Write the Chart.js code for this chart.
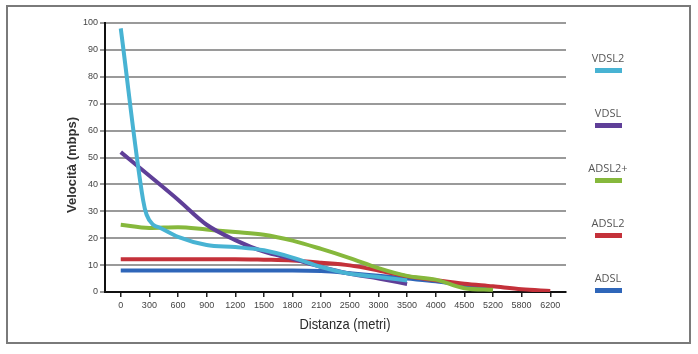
<!DOCTYPE html>
<html>
<head>
    <meta charset="utf-8">
    <title>Velocità vs distanza</title>
    <script src="https://cdn.jsdelivr.net/npm/chart.js"></script>
    <style>
        body { margin: 0; background: #fff; }
        .wrap { width: 698px; height: 354px; position: relative; }
    </style>
</head>
<body>
    <div class="wrap"><canvas id="speedChart"></canvas></div>

<script>
    // distanze (etichette asse x, spaziatura non uniforme)
    const distanze = ['0', '300', '600', '900', '1200', '1500', '1800', '2100', '2500',
                      '3000', '3500', '4000', '4500', '5200', '5800', '6200'];

    // VDSL2 ha qualche punto in più vicino al gomito
    const vdsl2Dist = [0, 235, 270, 340, 410, 600, 900, 1200, 1500, 1800, 2100, 2500, 3000, 3500];
    const vdsl2     = [98, 34, 28.8, 25, 23.9, 20.5, 17.5, 16.7, 15.5, 12.8, 9.3, 6.8, 5.6, 4.3];

    const vdsl   = [52, 43.2, 34.3, 25, 19.3, 15, 12.3, 9.3, 6.8, 5, 3];
    const adsl2p = [25, 23.8, 24.1, 23.2, 22.3, 21.3, 19.1, 16, 12.6, 8.9, 6, 4.6, 1.4, 0.8];
    const adsl2  = [12.2, 12.2, 12.2, 12.2, 12.2, 12, 11.7, 10.9, 9.9, 8, 5.8, 4.4, 3.1, 2.1, 1, 0.4];
    const adsl   = [8, 8, 8, 8, 8, 8, 8, 7.8, 7, 6, 5, 4, 2.5, 1];

    const yTicks = [0, 10, 20, 30, 40, 50, 60, 70, 80, 90, 100];

    const metri = distanze.map(Number);

    // l'asse x mette le etichette a passo costante: metri -> posizione sull'asse
    function posOf(m) {
        for (let i = 0; i < metri.length - 1; i++) {
            if (m <= metri[i + 1]) return i + (m - metri[i]) / (metri[i + 1] - metri[i]);
        }
        return metri.length - 1;
    }

    const onLabels = arr => arr.map((v, i) => ({ x: i, y: v }));

    const serie = [
        { label: 'VDSL2',  data: vdsl2.map((v, i) => ({ x: posOf(vdsl2Dist[i]), y: v })), color: '#48b3d3' },
        { label: 'VDSL',   data: onLabels(vdsl),   color: '#5f3f98' },
        { label: 'ADSL2+', data: onLabels(adsl2p), color: '#86b83c' },
        { label: 'ADSL2',  data: onLabels(adsl2),  color: '#c4313a' },
        { label: 'ADSL',   data: onLabels(adsl),   color: '#2f66b9' }
    ];

    const tickFont = { size: 9, family: "'Liberation Sans', sans-serif" };

    // cornice, titoli degli assi e legenda a destra
    const decor = {
        id: 'decor',
        beforeDraw(chart) {
            const c = chart.ctx;
            c.save();
            c.fillStyle = '#fff';
            c.fillRect(0, 0, chart.width, chart.height);
            c.restore();
        },
        afterDraw(chart) {
            const c = chart.ctx;
            c.save();
            c.strokeStyle = '#7a7a7a';
            c.lineWidth = 2;
            c.strokeRect(7, 6, 683, 337);

            // titolo asse y
            c.fillStyle = '#333';
            c.font = "bold 13px 'Liberation Sans', Arial, sans-serif";
            c.textAlign = 'center';
            c.textBaseline = 'middle';
            c.translate(72, 165);
            c.rotate(-Math.PI / 2);
            c.fillText('Velocità (mbps)', 0, 0);
            c.setTransform(1, 0, 0, 1, 0, 0);

            // titolo asse x (carattere stretto)
            c.translate(345, 325);
            c.scale(0.86, 1);
            c.font = "15px 'Liberation Sans', sans-serif";
            c.fillStyle = '#2a2a2a';
            c.fillText('Distanza (metri)', 0, 0);
            c.setTransform(1, 0, 0, 1, 0, 0);

            // legenda
            c.font = "11px 'Open Sans', sans-serif";
            serie.forEach((s, i) => {
                const y = 59 + i * 55;
                c.fillStyle = '#555';
                c.fillText(s.label, 608, y);
                c.fillStyle = s.color;
                c.fillRect(595, y + 9, 27, 5);
            });
            c.restore();
        }
    };

    new Chart(document.getElementById('speedChart'), {
        type: 'line',
        data: {
            datasets: serie.map(s => ({
                label: s.label,
                data: s.data,
                borderColor: s.color,
                backgroundColor: s.color,
                borderWidth: 4,
                pointRadius: 0,
                cubicInterpolationMode: 'monotone',
                fill: false
            }))
        },
        options: {
            responsive: true,
            maintainAspectRatio: false,
            animation: false,
            layout: { padding: { left: 64, right: 132, top: 23, bottom: 21 } },
            plugins: {
                legend: { display: false },
                tooltip: { enabled: false }
            },
            scales: {
                x: {
                    type: 'linear',
                    min: -0.55,
                    max: distanze.length - 0.45,
                    afterFit(s) { s.height = 41; },
                    afterBuildTicks(s) { s.ticks = distanze.map((d, i) => ({ value: i })); },
                    grid: { drawOnChartArea: false, drawTicks: true, tickLength: 5, color: '#222', lineWidth: 1.5 },
                    border: { color: '#111', width: 2 },
                    ticks: {
                        color: '#444',
                        font: tickFont,
                        padding: 3,
                        maxRotation: 0,
                        autoSkip: false,
                        callback: (v) => distanze[v]
                    }
                },
                y: {
                    min: 0,
                    max: 100,
                    afterFit(s) { s.width = 41; },
                    afterBuildTicks(s) { s.ticks = yTicks.map(v => ({ value: v })); },
                    grid: { color: '#9a9a9a', lineWidth: 2, tickLength: 5 },
                    border: { color: '#111', width: 2 },
                    ticks: {
                        color: '#444',
                        font: tickFont,
                        padding: 2
                    }
                }
            }
        },
        plugins: [decor]
    });
</script>
</body>
</html>
